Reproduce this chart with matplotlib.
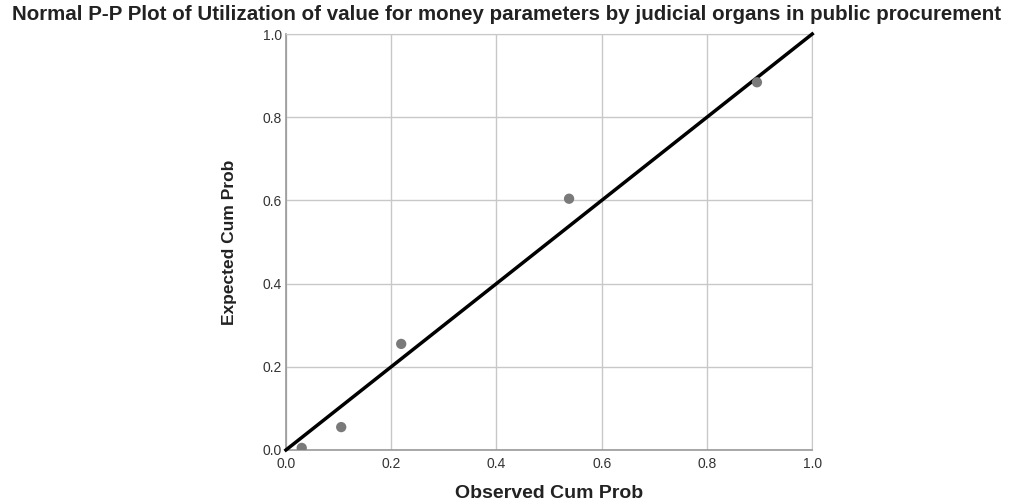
import matplotlib.pyplot as plt

plt.rcParams['font.family'] = ['Liberation Sans', 'DejaVu Sans']

# observed vs expected cumulative probabilities
observed = [0.030, 0.105, 0.219, 0.538, 0.895]
expected = [0.005, 0.055, 0.255, 0.604, 0.884]
ticks = [0.0, 0.2, 0.4, 0.6, 0.8, 1.0]
tick_labels = ['0.0', '0.2', '0.4', '0.6', '0.8', '1.0']

fig = plt.figure(figsize=(10.14, 5.03), dpi=100)
ax = fig.add_axes([0.282, 0.1054, 0.519, 0.827])

ax.set_xlim(0, 1)
ax.set_ylim(0, 1)
ax.set_xticks(ticks)
ax.set_yticks(ticks)
ax.set_xticklabels(tick_labels)
ax.set_yticklabels(tick_labels)
ax.tick_params(length=0, labelsize=10, colors='#333333')
ax.tick_params(axis='x', pad=5)
ax.tick_params(axis='y', pad=3)
ax.grid(True, color='#c8c8c8', linewidth=1)
ax.set_axisbelow(True)
for side in ['top', 'right']:
    ax.spines[side].set_color('#c8c8c8')
for side in ['left', 'bottom']:
    ax.spines[side].set_color('#999999')
    ax.spines[side].set_linewidth(1.2)

ax.plot([0, 1], [0, 1], color='black', linewidth=2.5, clip_on=False, zorder=3)
ax.scatter(observed, expected, s=55, color='#7a7a7a', marker='o', zorder=4,
           edgecolors='none')

ax.set_xlabel('Observed Cum Prob', fontsize=14, fontweight='bold', labelpad=10,
              color='#222222')
ax.set_ylabel('Expected Cum Prob', fontsize=12.5, fontweight='bold', labelpad=18,
              color='#222222')
fig.text(0.5, 0.972, 'Normal P-P Plot of Utilization of value for money parameters by judicial organs in public procurement',
         ha='center', va='center', fontsize=14.8, fontweight='bold', color='#222222')

fig.savefig('out.png', dpi=100)
